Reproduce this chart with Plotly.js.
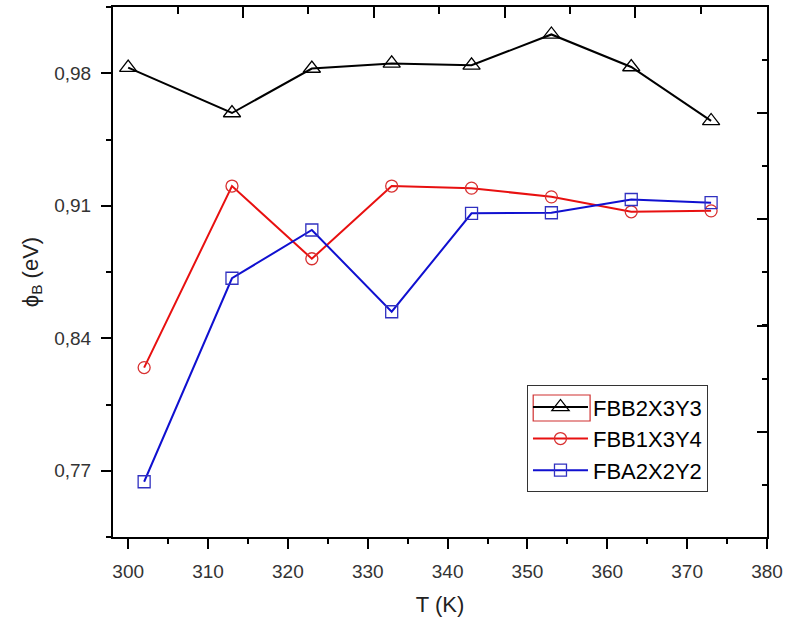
<!DOCTYPE html>
<html>
<head>
<meta charset="utf-8">
<script src="https://cdn.plot.ly/plotly-3.0.1.min.js"></script>
<style>html,body{margin:0;padding:0;background:#fff;}#chart{width:786px;height:617px;}</style>
</head>
<body>
<div id="chart"></div>
<script>
// Data
var seriesNames = ["FBB2X3Y3", "FBB1X3Y4", "FBA2X2Y2"];
var tempBlack = [300, 313, 323, 333, 343, 353, 363, 373];
var phiBlack  = [0.983, 0.959, 0.9825, 0.9852, 0.9842, 1.0005, 0.9833, 0.9548];
var tempRed   = [302, 313, 323, 333, 343, 353, 363, 373];
var phiRed    = [0.8245, 0.9204, 0.882, 0.9204, 0.9193, 0.9147, 0.9068, 0.9073];
var tempBlue  = [302, 313, 323, 333, 343, 353, 363, 373];
var phiBlue   = [0.7642, 0.8717, 0.8972, 0.854, 0.906, 0.9063, 0.9133, 0.9116];
var yTickVals = [0.77, 0.84, 0.91, 0.98];
var yTickText = ["0,77", "0,84", "0,91", "0,98"];
var xTickVals = [300, 310, 320, 330, 340, 350, 360, 370, 380];
var xTickText = ["300", "310", "320", "330", "340", "350", "360", "370", "380"];

var FONT = "Arial, 'Liberation Sans', sans-serif";

var traces = [
  {x: tempBlack, y: phiBlack, name: seriesNames[0], mode: "lines+markers",
   line: {color: "#000000", width: 2},
   marker: {symbol: "triangle-up-open", size: 15, color: "#000000", line: {width: 1.3, color: "#000000"}}},
  {x: tempRed, y: phiRed, name: seriesNames[1], mode: "lines+markers",
   line: {color: "#e81010", width: 2},
   marker: {symbol: "circle-open", size: 12, color: "#d83030", line: {width: 1.3, color: "#d83030"}}},
  {x: tempBlue, y: phiBlue, name: seriesNames[2], mode: "lines+markers",
   line: {color: "#1010d0", width: 2},
   marker: {symbol: "square-open", size: 12, color: "#3030c0", line: {width: 1.3, color: "#3030c0"}}},
  // invisible helper so the top/right frame axes get drawn
  {x: tempBlack, y: phiBlack, xaxis: "x2", yaxis: "y2", mode: "lines",
   opacity: 0, showlegend: false, hoverinfo: "skip", line: {width: 0}}
];

var xr = [298.1, 380];
var yr = [0.735, 1.015];

var layout = {
  width: 786, height: 617,
  margin: {l: 113, r: 19, t: 7, b: 80},
  paper_bgcolor: "#ffffff", plot_bgcolor: "#ffffff",
  font: {family: FONT, color: "#000000"},
  showlegend: true,
  xaxis: {
    range: xr, showgrid: false, zeroline: false,
    showline: true, linecolor: "#000000", linewidth: 2,
    ticks: "outside", ticklen: 10, tickwidth: 2, tickcolor: "#000000",
    tickmode: "array", tickvals: xTickVals, ticktext: xTickText,
    ticklabelstandoff: 6,
    minor: {ticks: "outside", ticklen: 5, tickwidth: 2, tickcolor: "#000000", dtick: 5, tick0: 300, showgrid: false},
    tickfont: {family: FONT, size: 19, color: "#333333"},
    title: {text: "T (K)", font: {family: FONT, size: 22, color: "#222222"}, standoff: 18}
  },
  yaxis: {
    range: yr, showgrid: false, zeroline: false,
    showline: true, linecolor: "#000000", linewidth: 2,
    ticks: "outside", ticklen: 10, tickwidth: 2, tickcolor: "#000000",
    tickmode: "array", tickvals: yTickVals, ticktext: yTickText,
    ticklabelstandoff: 6,
    minor: {ticks: "outside", ticklen: 5, tickwidth: 2, tickcolor: "#000000", dtick: 0.035, tick0: 0.77, showgrid: false},
    tickfont: {family: FONT, size: 19, color: "#333333"},
    title: {text: "\u03d5<sub>B</sub> (eV)", font: {family: FONT, size: 22, color: "#222222"}, standoff: 10}
  },
  xaxis2: {
    overlaying: "x", side: "top", anchor: "y2", range: xr, showgrid: false, zeroline: false,
    showline: true, linecolor: "#000000", linewidth: 2,
    ticks: "inside", ticklen: 11, tickwidth: 2, tickcolor: "#000000",
    tickmode: "linear", tick0: 314.4, dtick: 16.375, showticklabels: false,
    minor: {ticks: "inside", ticklen: 7, tickwidth: 2, tickcolor: "#000000", dtick: 8.1875, tick0: 306.2}
  },
  yaxis2: {
    overlaying: "y", side: "right", anchor: "x2", range: yr, showgrid: false, zeroline: false,
    showline: true, linecolor: "#000000", linewidth: 2,
    ticks: "inside", ticklen: 10, tickwidth: 2, tickcolor: "#000000",
    tickmode: "linear", tick0: 0.7906, dtick: 0.0561, showticklabels: false,
    minor: {ticks: "inside", ticklen: 5, tickwidth: 2, tickcolor: "#000000", dtick: 0.02805, tick0: 0.7626}
  },
  legend: {
    x: 0.633, y: 0.2865, xanchor: "left", yanchor: "top",
    bgcolor: "rgba(255,255,255,0)", bordercolor: "#333333", borderwidth: 1,
    font: {family: FONT, size: 22, color: "#000000"},
    itemwidth: 55, tracegroupgap: 0
  },
  shapes: [
    {type: "rect", xref: "paper", yref: "paper", layer: "above",
     x0: 0.6425, x1: 0.7295, y0: 0.2189, y1: 0.2679,
     line: {color: "#d03030", width: 1.2}, fillcolor: "rgba(0,0,0,0)"}
  ]
};

Plotly.newPlot("chart", traces, layout, {displayModeBar: false, staticPlot: true});
</script>
</body>
</html>
